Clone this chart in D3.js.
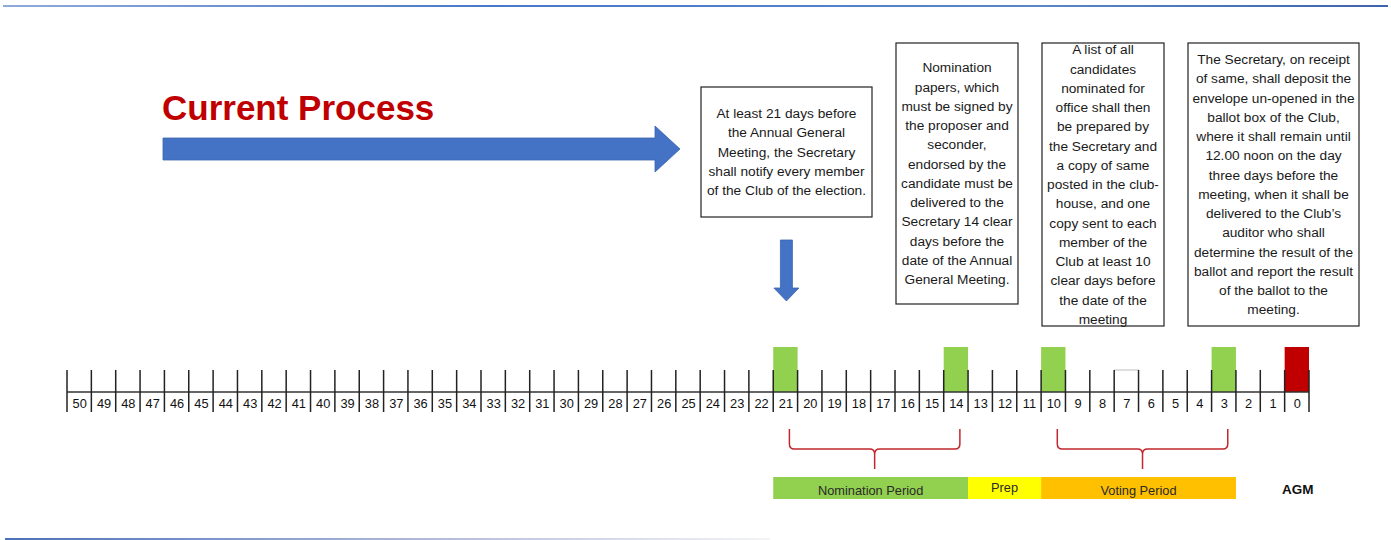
<!DOCTYPE html>
<html>
<head>
<meta charset="utf-8">
<script src="https://cdn.jsdelivr.net/npm/d3@7/dist/d3.min.js"></script>
<style>
  html, body { margin: 0; padding: 0; background: #fff; }
  svg { display: block; font-family: "Liberation Sans", Arial, sans-serif; }
</style>
</head>
<body>
<svg id="chart" width="1391" height="540"></svg>
<script>
// ---- data ----
const dayLabels = [50,49,48,47,46,45,44,43,42,41,40,39,38,37,36,35,34,33,32,31,30,29,28,27,26,25,24,23,22,21,20,19,18,17,16,15,14,13,12,11,10,9,8,7,6,5,4,3,2,1,0];
const milestoneDays = [21, 14, 10, 3];
const agmDays = [0];
const emptyMarkerDays = [7];
const periodLabels = ["Nomination Period", "Prep", "Voting Period"];
const periodStartDay = [21, 13, 10];
const periodEndDay = [14, 11, 3];
const periodColors = ["#92D050", "#FFFF00", "#FFC000"];
const braceStartDay = [21, 10];
const braceEndDay = [14, 3];
const agmLabel = "AGM";
const title = "Current Process";
const boxTexts = [
  ["At least 21 days before", "the Annual General", "Meeting, the Secretary", "shall notify every member", "of the Club of the election."],
  ["Nomination", "papers, which", "must be signed by", "the proposer and", "seconder,", "endorsed by the", "candidate must be", "delivered to the", "Secretary 14 clear", "days before the", "date of the Annual", "General Meeting."],
  ["A list of all", "candidates", "nominated for", "office shall then", "be prepared by", "the Secretary and", "a copy of same", "posted in the club-", "house, and one", "copy sent to each", "member of the", "Club at least 10", "clear days before", "the date of the", "meeting"],
  ["The Secretary, on receipt", "of same, shall deposit the", "envelope un-opened in the", "ballot box of the Club,", "where it shall remain until", "12.00 noon on the day", "three days before the", "meeting, when it shall be", "delivered to the Club\u2019s", "auditor who shall", "determine the result of the", "ballot and report the result", "of the ballot to the", "meeting."]
];
// layout of boxes (x0, y0, x1, y1)
const boxRects = [[701, 87, 872, 217], [896, 43, 1018, 304], [1042, 43, 1164, 326], [1188, 43, 1359, 326]];

// ---- drawing ----
const svg = d3.select("#chart");
const defs = svg.append("defs");

const x = d3.scaleBand().domain(dayLabels).range([67, 1309]).padding(0);
const bw = x.bandwidth();

// top rule
const gTop = defs.append("linearGradient").attr("id", "gTop");
gTop.append("stop").attr("offset", "0%").attr("stop-color", "#8eaadb");
gTop.append("stop").attr("offset", "35%").attr("stop-color", "#4a78c8");
gTop.append("stop").attr("offset", "75%").attr("stop-color", "#5b84cc");
gTop.append("stop").attr("offset", "100%").attr("stop-color", "#3d63b0");
svg.append("rect").attr("x", 3).attr("y", 5).attr("width", 1385).attr("height", 2).attr("fill", "url(#gTop)");

// bottom rule
const gBot = defs.append("linearGradient").attr("id", "gBot");
gBot.append("stop").attr("offset", "0%").attr("stop-color", "#4a72b8");
gBot.append("stop").attr("offset", "50%").attr("stop-color", "#a9b3d8");
gBot.append("stop").attr("offset", "100%").attr("stop-color", "#f4f4f6");
svg.append("rect").attr("x", 5).attr("y", 538).attr("width", 765).attr("height", 2).attr("fill", "url(#gBot)");

// title
svg.append("text").attr("x", 162).attr("y", 120)
  .attr("font-size", 35).attr("font-weight", "bold").attr("fill", "#C00000")
  .text(title);

// right arrow
svg.append("path")
  .attr("d", "M163,138 L655,138 L655,126 L680,149 L655,172 L655,160 L163,160 Z")
  .attr("fill", "#4472C4").attr("stroke", "#3a64b0").attr("stroke-width", 0.8);

// down arrow (under day 21)
const dx = x(21) + bw / 2 + 1;
svg.append("path")
  .attr("d", `M${dx-6},240 L${dx+6},240 L${dx+6},288 L${dx+12.5},288 L${dx},301 L${dx-12.5},288 L${dx-6},288 Z`)
  .attr("fill", "#4472C4").attr("stroke", "#3a64b0").attr("stroke-width", 0.8);

// text boxes
boxTexts.forEach((lines, i) => {
  const [x0, y0, x1, y1] = boxRects[i];
  const g = svg.append("g");
  g.append("rect").attr("x", x0).attr("y", y0).attr("width", x1 - x0).attr("height", y1 - y0)
    .attr("fill", "#fff").attr("stroke", "#222").attr("stroke-width", 1.2);
  const lh = 19.25;
  const cy = (y0 + y1) / 2;
  const first = cy - (lines.length - 1) * lh / 2;
  g.selectAll("text").data(lines).join("text")
    .attr("x", (x0 + x1) / 2)
    .attr("y", (d, j) => first + j * lh + 4.7)
    .attr("text-anchor", "middle")
    .attr("font-size", 13.7)
    .attr("fill", "#1a1a1a")
    .text(d => d);
});

// milestone boxes
const markTop = 347, lineY = 392, tickTop = 370, tickBot = 412;
svg.selectAll("rect.ms").data(milestoneDays).join("rect").attr("class", "ms")
  .attr("x", d => x(d)).attr("y", markTop).attr("width", bw).attr("height", lineY - markTop)
  .attr("fill", "#92D050");
svg.selectAll("rect.agm").data(agmDays).join("rect").attr("class", "agm")
  .attr("x", d => x(d)).attr("y", markTop).attr("width", bw).attr("height", lineY - markTop)
  .attr("fill", "#C00000");
svg.selectAll("line.em").data(emptyMarkerDays).join("line").attr("class", "em")
  .attr("x1", d => x(d)).attr("x2", d => x(d) + bw).attr("y1", tickTop).attr("y2", tickTop)
  .attr("stroke", "#c8c8c8").attr("stroke-width", 1.2);

// timeline axis line
svg.append("line").attr("x1", x.range()[0]).attr("x2", x.range()[1]).attr("y1", lineY).attr("y2", lineY)
  .attr("stroke", "#333").attr("stroke-width", 1.5);
// ticks (cell boundaries)
const bounds = dayLabels.map(d => x(d)).concat([x(dayLabels[dayLabels.length - 1]) + bw]);
svg.selectAll("line.tk").data(bounds).join("line").attr("class", "tk")
  .attr("x1", d => d).attr("x2", d => d).attr("y1", tickTop).attr("y2", tickBot)
  .attr("stroke", "#222").attr("stroke-width", 1.5);
// day labels
svg.selectAll("text.day").data(dayLabels).join("text").attr("class", "day")
  .attr("x", d => x(d) + bw / 2 + 0.5).attr("y", 407.5)
  .attr("text-anchor", "middle").attr("font-size", 12.8).attr("fill", "#111")
  .text(d => d);

// braces
const braceTop = 429, braceMid = 449, braceTip = 469;
braceStartDay.forEach((s, i) => {
  const xa = x(s) + bw / 2 + 4;
  const xb = x(braceEndDay[i]) + bw / 2 + 4;
  const xm = (xa + xb) / 2;
  const r = 5;
  const p = `M${xa},${braceTop} L${xa},${braceMid - r} Q${xa},${braceMid} ${xa + r},${braceMid} ` +
            `L${xm - r},${braceMid} Q${xm},${braceMid} ${xm},${braceMid + r} ` +
            `Q${xm},${braceMid} ${xm + r},${braceMid} L${xb - r},${braceMid} Q${xb},${braceMid} ${xb},${braceMid - r} L${xb},${braceTop}`;
  svg.append("path").attr("d", p).attr("fill", "none").attr("stroke", "#C0282D").attr("stroke-width", 1.5);
  svg.append("line").attr("x1", xm).attr("x2", xm).attr("y1", braceMid + r).attr("y2", braceTip)
    .attr("stroke", "#C0282D").attr("stroke-width", 1.5);
});

// period bars
const barTop = 477, barH = 22;
periodLabels.forEach((lab, i) => {
  const x0 = x(periodStartDay[i]);
  const x1 = x(periodEndDay[i]) + bw;
  svg.append("rect").attr("x", x0).attr("y", barTop).attr("width", x1 - x0).attr("height", barH)
    .attr("fill", periodColors[i]);
  svg.append("text").attr("x", (x0 + x1) / 2).attr("y", i === 1 ? 492 : 495)
    .attr("text-anchor", "middle").attr("font-size", 12.8).attr("fill", "#2a2a2a")
    .text(lab);
});
svg.append("text").attr("x", x(agmDays[0]) + bw / 2 + 1).attr("y", 494)
  .attr("text-anchor", "middle").attr("font-size", 13.5).attr("font-weight", "bold").attr("fill", "#111")
  .text(agmLabel);
</script>
</body>
</html>
